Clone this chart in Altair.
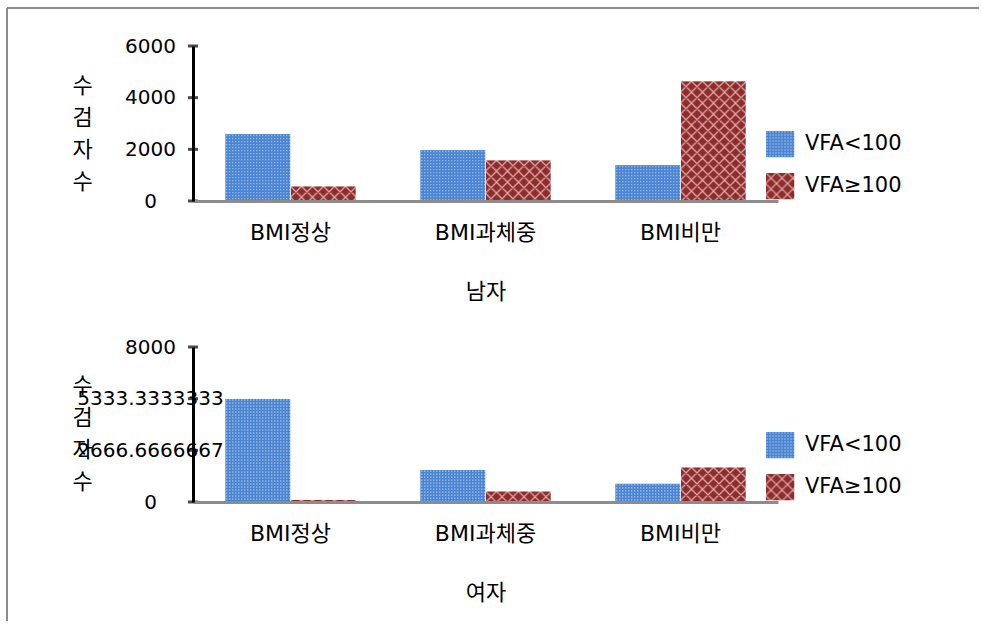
import urllib.parse

import altair as alt
import pandas as pd

# ---- data -------------------------------------------------------------
GROUPS = ["BMI정상", "BMI과체중", "BMI비만"]
SERIES = ["VFA<100", "VFA≥100"]

MALE_LOW = [2590, 1970, 1390]
MALE_HIGH = [570, 1580, 4640]
FEMALE_LOW = [5340, 1670, 960]
FEMALE_HIGH = [120, 550, 1790]

MALE_TICKS = [0, 2000, 4000, 6000]
FEMALE_TICKS = [0, 2666.6666667, 5333.3333333, 8000]

Y_TITLE = ["수", "검", "자", "수"]
PANEL_TITLES = ["남자", "여자"]

# ---- styling ----------------------------------------------------------
FONT = "DejaVu Sans, 'Noto Sans CJK KR', sans-serif"
FS = 20
FS_KR = 22
PLOT_W, PLOT_H = 585, 155


def pattern_url(tile):
    """Tiled SVG fill, used as an image stretched over each bar."""
    svg = (
        '<svg xmlns="http://www.w3.org/2000/svg" width="100%" height="100%">'
        "<defs>" + tile + "</defs>"
        '<rect width="100%" height="100%" fill="url(#p)"/></svg>'
    )
    return "data:image/svg+xml," + urllib.parse.quote(svg, safe="")


DOTS = pattern_url(
    '<pattern id="p" width="3" height="3" patternUnits="userSpaceOnUse">'
    '<rect width="3" height="3" fill="#4b85d2"/>'
    '<rect x="1" y="1" width="1" height="1" fill="#e3ecf9"/></pattern>'
)
LATTICE = pattern_url(
    '<pattern id="p" width="11" height="11" patternUnits="userSpaceOnUse">'
    '<rect width="11" height="11" fill="#8e2c2c"/>'
    '<path d="M-1,-1L12,12M12,-1L-1,12M-1,10L1,12M10,-1L12,1M-1,1L1,-1M10,12L12,10" '
    'stroke="#e2b2b2" stroke-width="1.2"/></pattern>'
)
PATTERN_EXPR = alt.expr.if_(alt.datum.series == SERIES[0], DOTS, LATTICE)


def panel(low, high, ticks, title, title_y):
    df = pd.DataFrame(
        {
            "group": GROUPS * 2,
            "series": [SERIES[0]] * len(GROUPS) + [SERIES[1]] * len(GROUPS),
            "value": low + high,
        }
    )
    y_scale = alt.Scale(domain=[ticks[0], ticks[-1]], nice=False, zero=True)

    bars = (
        alt.Chart(df)
        .transform_calculate(pattern=PATTERN_EXPR)
        .mark_image(aspect=False)
        .encode(
            x=alt.X(
                "group:N",
                sort=GROUPS,
                scale=alt.Scale(paddingInner=0.33, paddingOuter=0.165),
                axis=alt.Axis(
                    title=title,
                    labelAngle=0,
                    labelPadding=21,
                    labelFontSize=FS_KR,
                    titleFontSize=FS_KR,
                    ticks=False,
                    tickSize=0,
                    domainColor="#8c8c8c",
                    domainWidth=3,
                    titleY=90,
                    titleBaseline="middle",
                    zindex=1,
                ),
            ),
            xOffset=alt.XOffset(
                "series:N",
                sort=SERIES,
                scale=alt.Scale(domain=SERIES, paddingInner=0, paddingOuter=0),
            ),
            y=alt.Y(
                "value:Q",
                scale=y_scale,
                axis=alt.Axis(
                    values=ticks,
                    format=".11~g",
                    title=Y_TITLE,
                    titleAngle=0,
                    titleX=-111,
                    titleY=title_y,
                    titleAlign="center",
                    titleBaseline="middle",
                    titleLineHeight=32,
                    titleFontSize=FS_KR,
                    labelAlign="center",
                    labelBaseline="middle",
                    labelPadding=43,
                    labelOverlap=False,
                    ticks=False,
                    tickSize=0,
                    domainColor="black",
                    domainWidth=3,
                    grid=False,
                    zindex=1,
                ),
            ),
            y2=alt.datum(0),
            url=alt.Url("pattern:N"),
        )
    )

    # tick marks crossing the value axis
    tick_marks = (
        alt.Chart(pd.DataFrame({"tick": ticks}))
        .mark_tick(color="black", thickness=3, size=10, orient="horizontal")
        .encode(y=alt.Y("tick:Q", scale=y_scale, axis=None), x=alt.value(0))
    )

    legend_y = alt.Y(
        "series:N",
        sort=SERIES,
        scale=alt.Scale(type="point", domain=SERIES, range=[98, 140], padding=0),
        axis=None,
    )
    legend_df = pd.DataFrame({"series": SERIES})
    swatches = (
        alt.Chart(legend_df)
        .transform_calculate(pattern=PATTERN_EXPR)
        .mark_image(aspect=False, width=29, height=27)
        .encode(x=alt.value(587), y=legend_y, url=alt.Url("pattern:N"))
    )
    labels = (
        alt.Chart(legend_df)
        .mark_text(align="left", baseline="middle", fontSize=21, color="black")
        .encode(x=alt.value(612), y=legend_y, text="series:N")
    )
    return alt.layer(bars, tick_marks, swatches, labels).resolve_scale(y="independent")


# first line of the stacked y title sits 1.5 line-heights above the block centre
top = panel(MALE_LOW, MALE_HIGH, MALE_TICKS, PANEL_TITLES[0], 39)
bottom = panel(FEMALE_LOW, FEMALE_HIGH, FEMALE_TICKS, PANEL_TITLES[1], 38)

# outer border of the chart area (top and left edges)
one = pd.DataFrame({"k": [0]})
frame_top = alt.Chart(one).mark_rule(color="#8c8c8c", strokeWidth=2).encode(
    x=alt.value(-186), x2=alt.value(786), y=alt.value(-38)
)
frame_left = alt.Chart(one).mark_rule(color="#8c8c8c", strokeWidth=2).encode(
    x=alt.value(-186), y=alt.value(-38), y2=alt.value(575)
)
top = alt.layer(top, frame_top, frame_left).properties(width=PLOT_W, height=PLOT_H)
bottom = bottom.properties(width=PLOT_W, height=PLOT_H)

chart = (
    alt.vconcat(top, bottom, spacing=146, bounds="flush")
    .properties(padding={"left": 6, "top": 7, "right": 0, "bottom": 0})
    .configure(font=FONT)
    .configure_view(strokeWidth=0)
    .configure_axis(
        labelFontSize=FS,
        titleFontSize=FS,
        labelColor="black",
        titleColor="black",
        titleFontWeight="normal",
        labelFont=FONT,
        titleFont=FONT,
    )
    .configure_text(font=FONT)
)

chart.save("out.html", embed_options={"renderer": "svg", "actions": False})
